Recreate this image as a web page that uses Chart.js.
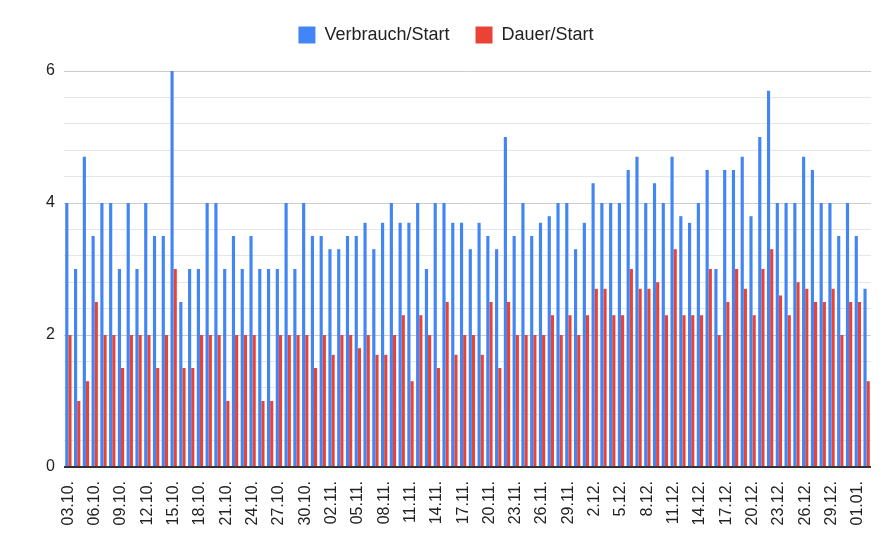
<!DOCTYPE html>
<html>
<head>
<meta charset="utf-8">
<script src="https://cdn.jsdelivr.net/npm/chart.js@4"></script>
<style>
  html, body { margin: 0; padding: 0; background: #fff; }
  #wrap { width: 892px; height: 550px; }
</style>
</head>
<body>
<div id="wrap"><canvas id="c" width="892" height="550"></canvas></div>
<script>
const dates = [
  "03.10.","04.10.","05.10.","06.10.","07.10.","08.10.","09.10.","10.10.","11.10.","12.10.",
  "13.10.","14.10.","15.10.","16.10.","17.10.","18.10.","19.10.","20.10.","21.10.","22.10.",
  "23.10.","24.10.","25.10.","26.10.","27.10.","28.10.","29.10.","30.10.","31.10.",
  "01.11.","02.11.","03.11.","04.11.","05.11.","06.11.","07.11.","08.11.","09.11.","10.11.",
  "11.11.","12.11.","13.11.","14.11.","15.11.","16.11.","17.11.","18.11.","19.11.","20.11.",
  "21.11.","22.11.","23.11.","24.11.","25.11.","26.11.","27.11.","28.11.","29.11.","30.11.",
  "1.12.","2.12.","3.12.","4.12.","5.12.","6.12.","7.12.","8.12.","9.12.","10.12.",
  "11.12.","12.12.","13.12.","14.12.","15.12.","16.12.","17.12.","18.12.","19.12.","20.12.",
  "21.12.","22.12.","23.12.","24.12.","25.12.","26.12.","27.12.","28.12.","29.12.","30.12.",
  "31.12.","01.01.","02.01."
];

const verbrauch = [
  4, 3, 4.7, 3.5, 4, 4, 3, 4, 3, 4,
  3.5, 3.5, 6, 2.5, 3, 3, 4, 4, 3, 3.5,
  3, 3.5, 3, 3, 3, 4, 3, 4, 3.5,
  3.5, 3.3, 3.3, 3.5, 3.5, 3.7, 3.3, 3.7, 4, 3.7,
  3.7, 4, 3, 4, 4, 3.7, 3.7, 3.3, 3.7, 3.5,
  3.3, 5, 3.5, 4, 3.5, 3.7, 3.8, 4, 4, 3.3,
  3.7, 4.3, 4, 4, 4, 4.5, 4.7, 4, 4.3, 4,
  4.7, 3.8, 3.7, 4, 4.5, 3, 4.5, 4.5, 4.7, 3.8,
  5, 5.7, 4, 4, 4, 4.7, 4.5, 4, 4, 3.5,
  4, 3.5, 2.7
];

const dauer = [
  2, 1, 1.3, 2.5, 2, 2, 1.5, 2, 2, 2,
  1.5, 2, 3, 1.5, 1.5, 2, 2, 2, 1, 2,
  2, 2, 1, 1, 2, 2, 2, 2, 1.5,
  2, 1.7, 2, 2, 1.8, 2, 1.7, 1.7, 2, 2.3,
  1.3, 2.3, 2, 1.5, 2.5, 1.7, 2, 2, 1.7, 2.5,
  1.5, 2.5, 2, 2, 2, 2, 2.3, 2, 2.3, 2,
  2.3, 2.7, 2.7, 2.3, 2.3, 3, 2.7, 2.7, 2.8, 2.3,
  3.3, 2.3, 2.3, 2.3, 3, 2, 2.5, 3, 2.7, 2.3,
  3, 3.3, 2.6, 2.3, 2.8, 2.7, 2.5, 2.5, 2.7, 2,
  2.5, 2.5, 1.3
];

const seriesNames = ["Verbrauch/Start", "Dauer/Start"];
const yLabelValues = [0, 2, 4, 6];

const FONT = "'Liberation Sans', Arial, sans-serif";

const legendHeightPlugin = {
  id: 'legendHeight',
  beforeInit(chart) {
    const orig = chart.legend.fit;
    chart.legend.fit = function () {
      orig.call(this);
      this.height = 71;
    };
  }
};

new Chart(document.getElementById('c'), {
  type: 'bar',
  data: {
    labels: dates,
    datasets: [
      { label: seriesNames[0], data: verbrauch, backgroundColor: '#4285F4', borderWidth: 0 },
      { label: seriesNames[1], data: dauer, backgroundColor: '#EA4335', borderWidth: 0 }
    ]
  },
  options: {
    responsive: false,
    animation: false,
    devicePixelRatio: 1,
    layout: { padding: { left: 0, right: 0, top: 0, bottom: 0 } },
    datasets: { bar: { categoryPercentage: 0.72, barPercentage: 1.0 } },
    plugins: {
      legend: {
        position: 'top',
        align: 'center',
        labels: {
          boxWidth: 17,
          boxHeight: 17,
          padding: 26,
          color: '#222',
          font: { family: FONT, size: 18 }
        }
      },
      tooltip: { enabled: false }
    },
    scales: {
      x: {
        grid: { display: false, drawTicks: false },
        border: { display: false },
        ticks: {
          autoSkip: false,
          minRotation: 90,
          maxRotation: 90,
          padding: 14,
          color: '#222',
          font: { family: FONT, size: 16 },
          callback: function (val, idx) { return idx % 3 === 0 ? dates[idx] : ''; }
        },
        afterFit(scale) {
          scale.height = 83;
          scale.paddingLeft = 0;
          scale.paddingRight = 21;
        }
      },
      y: {
        min: 0,
        max: 6,
        border: { display: false },
        grid: {
          drawTicks: false,
          color: ctx => {
            const v = ctx.tick ? ctx.tick.value : 1;
            if (Math.abs(v) < 1e-6) return '#333';
            return yLabelValues.some(m => Math.abs(v - m) < 1e-6) ? '#cccccc' : '#e6e6e6';
          },
          lineWidth: ctx => (ctx.tick && Math.abs(ctx.tick.value) < 1e-6) ? 2 : 1
        },
        ticks: {
          stepSize: 0.4,
          autoSkip: false,
          padding: 9,
          color: '#222',
          font: { family: FONT, size: 16 },
          callback: function (v) {
            return yLabelValues.some(m => Math.abs(v - m) < 1e-6) ? String(Math.round(v)) : '';
          }
        },
        afterFit(scale) {
          scale.width = 64;
          scale.paddingTop = 0;
          scale.paddingBottom = 0;
        }
      }
    }
  },
  plugins: [legendHeightPlugin]
});
</script>
</body>
</html>
